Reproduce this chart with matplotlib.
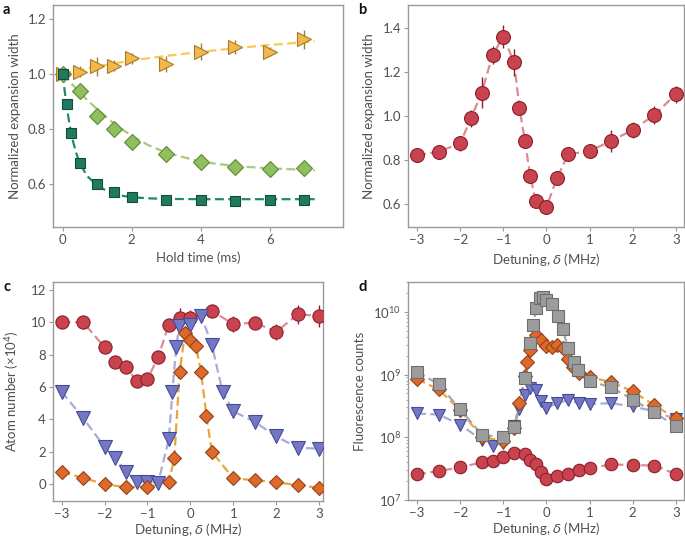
import matplotlib
matplotlib.use("Agg")
import matplotlib.pyplot as plt
from matplotlib.ticker import LogLocator, NullFormatter

plt.rcParams['font.family'] = ['Lato', 'DejaVu Sans']
plt.rcParams['mathtext.fontset'] = 'dejavusans'

# ---------------- Panel a data ----------------
a_t_tri = [0, 0.5, 1, 1.5, 2, 3, 4, 5, 6, 7]
a_tri = [1.0, 1.008, 1.027, 1.029, 1.057, 1.036, 1.081, 1.097, 1.081, 1.126]
a_tri_err = [0.01, 0.02, 0.035, 0.02, 0.02, 0.03, 0.03, 0.025, 0.015, 0.035]
a_t_dia = [0, 0.5, 1, 1.5, 2, 3, 4, 5, 6, 7]
a_dia = [1.0, 0.939, 0.847, 0.799, 0.752, 0.708, 0.679, 0.663, 0.653, 0.659]
a_t_sq = [0, 0.125, 0.25, 0.5, 1, 1.5, 2, 3, 4, 5, 6, 7]
a_sq = [1.0, 0.89, 0.787, 0.675, 0.599, 0.57, 0.554, 0.542, 0.542, 0.54, 0.542, 0.542]
# fit curves
a_fit_t = [0, 0.25, 0.5, 0.75, 1, 1.5, 2, 2.5, 3, 4, 5, 6, 7.3]
a_fit_tri = [1.0, 1.008, 1.015, 1.021, 1.027, 1.038, 1.048, 1.057, 1.065, 1.08, 1.093, 1.105, 1.118]
a_fit_dia = [1.0, 0.965, 0.932, 0.9, 0.872, 0.818, 0.775, 0.74, 0.714, 0.681, 0.665, 0.657, 0.65]
a_fit_sq_t = [0, 0.1, 0.2, 0.3, 0.4, 0.5, 0.7, 1.0, 1.3, 1.6, 2.0, 2.5, 3, 4, 5, 6, 7.3]
a_fit_sq = [1.0, 0.895, 0.815, 0.755, 0.71, 0.675, 0.63, 0.595, 0.573, 0.56, 0.552, 0.548,
            0.546, 0.545, 0.545, 0.545, 0.545]

# ---------------- Panel b data ----------------
b_x = [-3, -2.5, -2, -1.75, -1.5, -1.25, -1.0, -0.75, -0.625, -0.5, -0.375, -0.25, 0,
       0.25, 0.5, 1, 1.5, 2, 2.5, 3]
b_y = [0.824, 0.839, 0.877, 0.991, 1.107, 1.279, 1.362, 1.245, 1.038, 0.889, 0.729, 0.615,
       0.589, 0.721, 0.827, 0.842, 0.888, 0.938, 1.006, 1.1]
b_err = [0.025, 0.025, 0.035, 0.04, 0.07, 0.04, 0.053, 0.063, 0.02, 0.02, 0.015, 0.015,
         0.015, 0.015, 0.025, 0.025, 0.05, 0.035, 0.04, 0.04]

# ---------------- Panel c data ----------------
c_x_red = [-3, -2.5, -2, -1.75, -1.5, -1.25, -1, -0.75, -0.5, -0.25, 0, 0.5, 1, 1.5, 2, 2.5, 3]
c_red = [10.0, 10.0, 8.45, 7.55, 7.2, 6.38, 6.48, 7.85, 9.85, 10.25, 10.25, 10.69, 9.87,
         9.97, 9.39, 10.48, 10.38]
c_red_err = [0.2, 0.4, 0.3, 0.3, 0.2, 0.3, 0.3, 0.3, 0.3, 0.6, 0.5, 0.3, 0.5, 0.3, 0.5,
             0.6, 0.7]
c_x_blue = [-3, -2.5, -2, -1.75, -1.5, -1.25, -1, -0.75, -0.5, -0.42, -0.33, -0.26, 0, 0.25,
            0.5, 0.75, 1, 1.5, 2, 2.5, 3]
c_blue = [5.7, 4.1, 2.3, 1.65, 0.75, 0.15, 0.15, 0.1, 2.8, 5.7, 8.45, 9.75, 9.85, 10.4,
          8.6, 5.7, 4.5, 3.85, 2.95, 2.25, 2.2]
c_x_orange = [-3, -2.5, -2, -1.5, -1, -0.5, -0.375, -0.25, -0.125, 0, 0.125, 0.25, 0.375,
              0.5, 1, 1.5, 2, 2.5, 3]
c_orange = [0.75, 0.4, 0.0, -0.18, -0.18, 0.16, 1.6, 6.95, 9.3, 8.9, 8.55, 6.9, 4.2, 2.0,
            0.37, 0.25, 0.12, -0.05, -0.22]

# ---------------- Panel d data ----------------
d_x_grey = [-3, -2.5, -2, -1.5, -1, -0.75, -0.5, -0.38, -0.3, -0.24, -0.16, -0.08, 0, 0.14,
            0.26, 0.38, 0.5, 0.63, 0.74, 1, 1.5, 2, 2.5, 3]
d_grey = [1.12e9, 7.0e8, 2.8e8, 1.1e8, 1.0e8, 1.45e8, 8.7e8, 3.2e9, 6.2e9, 1.15e10, 1.65e10,
          1.75e10, 1.55e10, 1.35e10, 8.6e9, 5.3e9, 2.7e9, 1.6e9, 1.2e9, 7.8e8, 6.3e8, 4.0e8,
          2.5e8, 1.5e8]
d_x_orange = [-3, -2.5, -2, -1.5, -1, -0.75, -0.625, -0.5, -0.44, -0.375, -0.25, -0.125, 0,
              0.125, 0.25, 0.375, 0.5, 0.625, 0.75, 1, 1.5, 2, 2.5, 3]
d_orange = [8.5e8, 5.8e8, 2.7e8, 1.0e8, 8.8e7, 1.4e8, 3.5e8, 9.5e8, 1.6e9, 2.5e9, 4.3e9,
            3.6e9, 2.9e9, 2.8e9, 3.0e9, 2.7e9, 1.8e9, 1.3e9, 1.07e9, 9.1e8, 7.6e8, 5.4e8,
            3.25e8, 2.0e8]
d_x_blue = [-3, -2.5, -2, -1.5, -1.25, -1, -0.75, -0.625, -0.5, -0.375, -0.25, -0.125, 0,
            0.25, 0.5, 0.75, 1, 1.5, 2, 2.5, 3]
d_blue = [2.4e8, 2.3e8, 1.6e8, 9.0e7, 7.4e7, 8.0e7, 1.5e8, 2.8e8, 4.8e8, 6.2e8, 5.6e8,
          3.8e8, 2.95e8, 3.5e8, 3.9e8, 3.5e8, 3.4e8, 3.5e8, 3.1e8, 2.6e8, 1.95e8]
d_x_red = [-3, -2.5, -2, -1.5, -1.25, -1, -0.75, -0.5, -0.375, -0.25, -0.125, 0, 0.25, 0.5,
           0.75, 1, 1.5, 2, 2.5, 3]
d_red = [2.57e7, 2.9e7, 3.3e7, 4.0e7, 4.2e7, 4.9e7, 5.6e7, 5.5e7, 4.3e7, 3.7e7, 2.75e7,
         2.2e7, 2.4e7, 2.6e7, 3.0e7, 3.2e7, 3.7e7, 3.6e7, 3.55e7, 2.6e7]

# ---------------- styles ----------------
SPINE = '#9a9a9a'
TXT = '#505050'
DASH = (4, 2)
LW = 1.6
FS = 9.5

RED_F, RED_E, RED_L = '#c9434f', '#8a1f2b', '#dc8c94'
BLUE_F, BLUE_E, BLUE_L = '#7478c4', '#464b98', '#a9abd9'
OR_F, OR_E, OR_L = '#dd6a2a', '#94421a', '#e8a53a'
GR_F, GR_E, GR_L = '#9c9c9c', '#6e6e6e', '#a8a8a8'

fig = plt.figure(figsize=(6.85, 5.39), dpi=100)
W, H = 685.0, 539.0


def add_ax(l, t, r, b):
    return fig.add_axes([l / W, 1 - b / H, (r - l) / W, (b - t) / H])


def style(ax):
    for s in ax.spines.values():
        s.set_color(SPINE)
        s.set_linewidth(1.0)
    ax.tick_params(direction='out', length=3, width=0.8, color=SPINE, labelcolor=TXT,
                   labelsize=FS, pad=2)
    ax.tick_params(which='minor', direction='out', length=1.5, width=0.6, color=SPINE)


def dline(ax, x, y, color):
    ax.plot(x, y, color=color, lw=LW, dashes=DASH, zorder=2)


axa = add_ax(53, 5, 343, 227)
axb = add_ax(408, 5, 684, 227)
axc = add_ax(53, 282, 323, 501)
axd = add_ax(408, 282, 684, 500)

# ---- panel a ----
dline(axa, a_fit_t, a_fit_tri, '#f5c95a')
dline(axa, a_fit_t, a_fit_dia, '#a9c97d')
dline(axa, a_fit_sq_t, a_fit_sq, '#1e8c69')
axa.errorbar(a_t_tri, a_tri, yerr=a_tri_err, fmt='>', ms=10, mfc='#f3b84c', mec='#a67a2a',
             mew=0.8, ecolor='#a67a2a', elinewidth=1, capsize=0, zorder=3)
axa.plot(a_t_dia, a_dia, 'D', ms=8.5, mfc='#8fbf5e', mec='#5e8a35', mew=0.8, zorder=3)
axa.plot(a_t_sq, a_sq, 's', ms=7.5, mfc='#227a5e', mec='#0f4f3a', mew=0.8, zorder=4)
axa.set_xlim(-0.28, 8.12)
axa.set_ylim(0.444, 1.25)
axa.set_xticks([0, 2, 4, 6])
axa.set_yticks([0.6, 0.8, 1.0, 1.2])
axa.set_xlabel('Hold time (ms)', color=TXT, fontsize=FS, labelpad=4)
axa.set_ylabel('Normalized expansion width', color=TXT, fontsize=FS, labelpad=5)
style(axa)

# ---- panel b ----
dline(axb, b_x, b_y, RED_L)
axb.errorbar(b_x, b_y, yerr=b_err, fmt='o', ms=10, mfc=RED_F, mec=RED_E, mew=0.8,
             ecolor=RED_E, elinewidth=1, capsize=0, zorder=3)
axb.set_xlim(-3.21, 3.19)
axb.set_ylim(0.497, 1.506)
axb.set_xticks([-3, -2, -1, 0, 1, 2, 3])
axb.set_xticklabels(['\u22123', '\u22122', '\u22121', '0', '1', '2', '3'])
axb.set_yticks([0.6, 0.8, 1.0, 1.2, 1.4])
axb.set_xlabel('Detuning, $\\delta$ (MHz)', color=TXT, fontsize=FS, labelpad=4)
axb.set_ylabel('Normalized expansion width', color=TXT, fontsize=FS, labelpad=5)
style(axb)

# ---- panel c ----
dline(axc, c_x_red, c_red, RED_L)
dline(axc, c_x_blue, c_blue, BLUE_L)
dline(axc, c_x_orange, c_orange, OR_L)
axc.errorbar(c_x_red, c_red, yerr=c_red_err, fmt='o', ms=9.5, mfc=RED_F, mec=RED_E,
             mew=0.8, ecolor=RED_E, elinewidth=1, capsize=0, zorder=3)
axc.plot(c_x_blue, c_blue, 'v', ms=9.5, mfc=BLUE_F, mec=BLUE_E, mew=0.8, zorder=4)
axc.plot(c_x_orange, c_orange, 'D', ms=7, mfc=OR_F, mec=OR_E, mew=0.8, zorder=5)
axc.set_xlim(-3.2, 3.09)
axc.set_ylim(-1.03, 12.47)
axc.set_xticks([-3, -2, -1, 0, 1, 2, 3])
axc.set_xticklabels(['\u22123', '\u22122', '\u22121', '0', '1', '2', '3'])
axc.set_yticks([0, 2, 4, 6, 8, 10, 12])
axc.set_xlabel('Detuning, $\\delta$ (MHz)', color=TXT, fontsize=FS, labelpad=1)
axc.set_ylabel('Atom number (\u00d710$^4$)', color=TXT, fontsize=FS, labelpad=6)
style(axc)

# ---- panel d ----
axd.set_yscale('log')
dline(axd, d_x_red, d_red, RED_L)
dline(axd, d_x_blue, d_blue, BLUE_L)
dline(axd, d_x_orange, d_orange, OR_L)
dline(axd, d_x_grey, d_grey, GR_L)
axd.plot(d_x_red, d_red, 'o', ms=9, mfc=RED_F, mec=RED_E, mew=0.8, zorder=3)
axd.plot(d_x_blue, d_blue, 'v', ms=9, mfc=BLUE_F, mec=BLUE_E, mew=0.8, zorder=4)
axd.plot(d_x_orange, d_orange, 'D', ms=7, mfc=OR_F, mec=OR_E, mew=0.8, zorder=5)
axd.plot(d_x_grey, d_grey, 's', ms=8, mfc=GR_F, mec=GR_E, mew=0.8, zorder=6)
axd.set_xlim(-3.21, 3.19)
axd.set_ylim(1e7, 3e10)
axd.set_xticks([-3, -2, -1, 0, 1, 2, 3])
axd.set_xticklabels(['\u22123', '\u22122', '\u22121', '0', '1', '2', '3'])
axd.yaxis.set_major_locator(LogLocator(base=10, numticks=10))
axd.yaxis.set_minor_locator(LogLocator(base=10, subs=range(2, 10), numticks=20))
axd.yaxis.set_minor_formatter(NullFormatter())
axd.set_xlabel('Detuning, $\\delta$ (MHz)', color=TXT, fontsize=FS, labelpad=1)
axd.set_ylabel('Fluorescence counts', color=TXT, fontsize=FS, labelpad=5)
style(axd)

# panel letters
for lbl, x, y in [('a', 3, 10), ('b', 358, 10), ('c', 3, 287), ('d', 358, 287)]:
    fig.text(x / W, 1 - y / H, lbl, fontsize=10.5, fontweight='bold', color='#111111',
             va='center', ha='left')

fig.savefig('out.png', dpi=100)
